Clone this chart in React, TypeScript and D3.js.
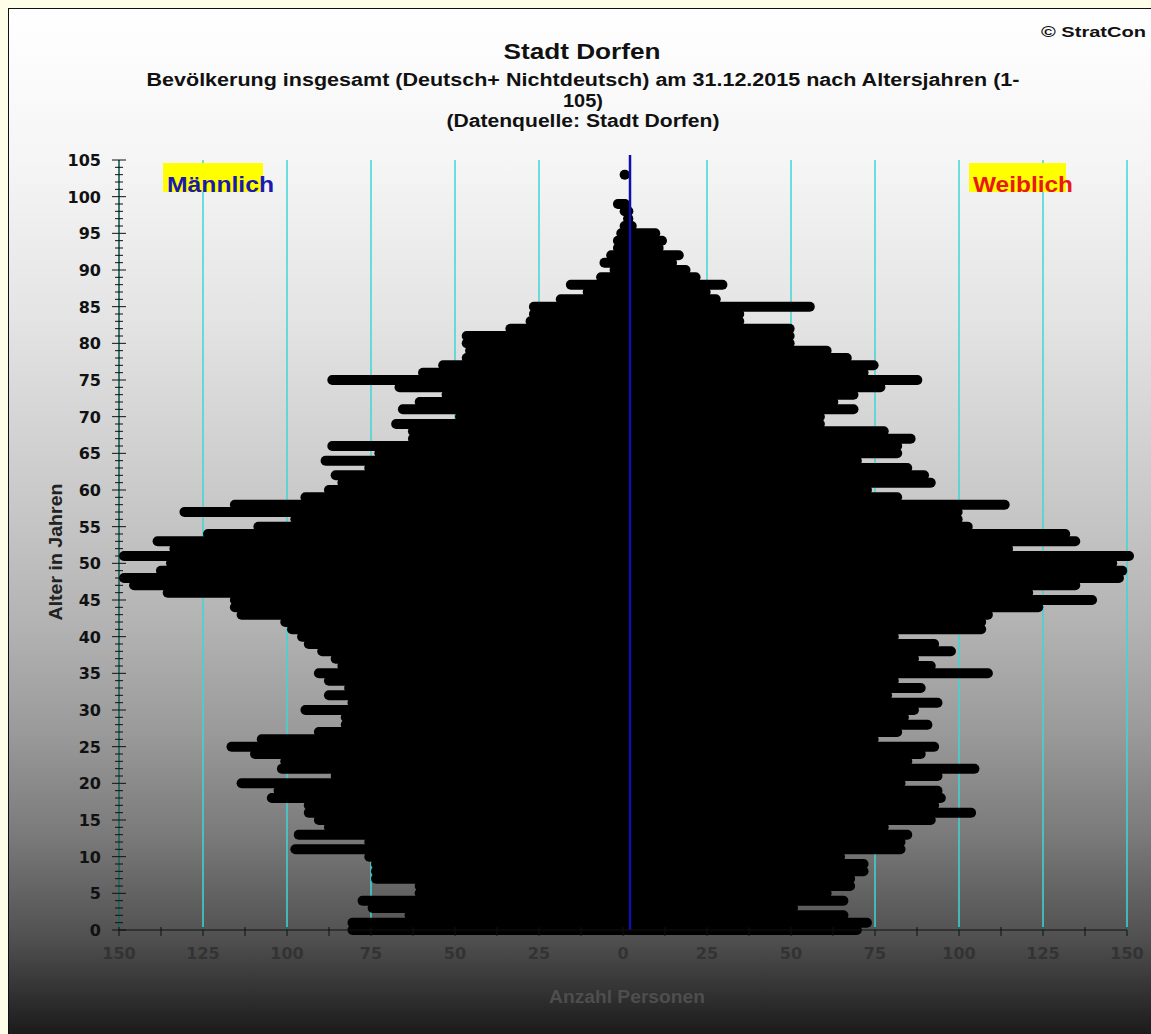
import React, { useRef, useEffect } from 'react';
import * as d3 from 'd3';

// Alter 0..105 (Index = Alter)
const ages = [
    0, 1, 2, 3, 4, 5, 6, 7, 8, 9, 10, 11, 12, 13, 14, 15, 16, 17, 18, 19, 20,
    21, 22, 23, 24, 25, 26, 27, 28, 29, 30, 31, 32, 33, 34, 35, 36, 37, 38, 39, 40,
    41, 42, 43, 44, 45, 46, 47, 48, 49, 50, 51, 52, 53, 54, 55, 56, 57, 58, 59, 60,
    61, 62, 63, 64, 65, 66, 67, 68, 69, 70, 71, 72, 73, 74, 75, 76, 77, 78, 79, 80,
    81, 82, 83, 84, 85, 86, 87, 88, 89, 90, 91, 92, 93, 94, 95, 96, 97, 98, 99, 100,
    101, 102, 103, 104, 105
];

const maleCounts = [
    82, 82, 65, 76, 79, 62, 62, 75, 75, 75, 77, 99, 77, 98, 89, 92, 95, 95, 106, 104, 115,
    87, 103, 102, 111, 118, 109, 92, 84, 84, 96, 82, 89, 83, 89, 92, 85, 87, 91, 95, 97,
    100, 102, 115, 117, 117, 137, 147, 150, 139, 136, 150, 135, 140, 125, 110, 99, 132, 117, 96, 89,
    85, 87, 77, 90, 74, 88, 64, 64, 69, 50, 67, 62, 54, 68, 88, 61, 55, 48, 47, 48,
    48, 35, 29, 28, 28, 20, 12, 17, 8, 4, 7, 5, 3, 3, 2, 1, 0, 1, 3, 0,
    0, 0, 1, 0, 0
];

const femaleCounts = [
    69, 72, 65, 50, 65, 60, 67, 67, 71, 71, 64, 82, 82, 84, 77, 91, 103, 92, 94, 93, 82,
    93, 104, 84, 88, 92, 74, 81, 90, 83, 86, 93, 78, 88, 80, 108, 91, 86, 97, 92, 80,
    106, 106, 108, 123, 139, 120, 134, 147, 148, 145, 150, 114, 134, 131, 102, 99, 99, 113, 81, 72,
    91, 89, 84, 69, 81, 81, 85, 77, 58, 58, 68, 62, 68, 76, 87, 71, 74, 66, 60, 49,
    49, 49, 34, 34, 55, 27, 24, 29, 21, 18, 14, 16, 10, 11, 9, 2, 1, 1, 0, 0,
    0, 0, 0, 0, 0
];

const ageTicks = [0, 5, 10, 15, 20, 25, 30, 35, 40, 45, 50, 55, 60, 65, 70, 75, 80, 85, 90, 95, 100, 105];
const countTicks = [-150, -125, -100, -75, -50, -25, 0, 25, 50, 75, 100, 125, 150];

const title = 'Stadt Dorfen';
const subtitleLines = [
    'Bevölkerung  insgesamt (Deutsch+ Nichtdeutsch) am 31.12.2015 nach Altersjahren (1-',
    '105)',
    '(Datenquelle: Stadt Dorfen)'
];
const subtitleWidths = [873, 40, 273];

const W = 1151;
const H = 1034;

const App: React.FC = () => {
    const svgRef = useRef<SVGSVGElement | null>(null);

    useEffect(() => {
        if (!svgRef.current) return;
        const svg = d3.select(svgRef.current);
        svg.selectAll('*').remove();

        const plot = { left: 119, right: 1127, top: 160, bottom: 930 };
        const centerShift = 7; // Mittellinie liegt etwas rechts von 0
        const barH = 10;

        const x = d3.scaleLinear().domain([-150, 150]).range([plot.left, plot.right]);
        const y = d3.scaleLinear().domain([0, 105]).range([plot.bottom, plot.top]);

        const arial = 'Arial, "Liberation Sans", sans-serif';
        const verdana = 'Verdana, "DejaVu Sans", sans-serif';
        const stretch = 'spacingAndGlyphs';

        // page + panel background
        const defs = svg.append('defs');
        const bg = defs.append('linearGradient')
            .attr('id', 'panelBg')
            .attr('x1', 0).attr('x2', 0).attr('y1', 0).attr('y2', 1);
        [
            [0, '#ffffff'], [0.15, '#f5f5f5'], [0.3, '#e4e4e4'], [0.48, '#c8c8c8'],
            [0.6, '#b2b2b2'], [0.7, '#9a9a9a'], [0.8, '#7a7a7a'], [0.9, '#505050'],
            [0.95, '#333333'], [1, '#161616']
        ].forEach(([o, c]) => bg.append('stop').attr('offset', o as number).attr('stop-color', c as string));

        svg.append('rect').attr('width', W).attr('height', H).attr('fill', '#fdfde8');
        svg.append('rect')
            .attr('x', 8.5).attr('y', 8.5)
            .attr('width', W).attr('height', H)
            .attr('fill', 'url(#panelBg)')
            .attr('stroke', '#111').attr('stroke-width', 1);

        // titles
        svg.append('text')
            .attr('x', 1041).attr('y', 37)
            .attr('font-family', arial).attr('font-weight', 'bold').attr('font-size', 15)
            .attr('textLength', 105).attr('lengthAdjust', stretch)
            .attr('fill', '#111')
            .text('© StratCon');

        svg.append('text')
            .attr('x', 582).attr('y', 59)
            .attr('text-anchor', 'middle')
            .attr('font-family', arial).attr('font-weight', 'bold').attr('font-size', 22)
            .attr('textLength', 157).attr('lengthAdjust', stretch)
            .attr('fill', '#111')
            .text(title);

        subtitleLines.forEach((line, i) => {
            svg.append('text')
                .attr('x', 583).attr('y', 86 + i * 20.5)
                .attr('text-anchor', 'middle')
                .attr('font-family', arial).attr('font-weight', 'bold').attr('font-size', 18)
                .attr('textLength', subtitleWidths[i]).attr('lengthAdjust', stretch)
                .attr('fill', '#111')
                .text(line);
        });

        // cyan grid
        svg.append('g')
            .selectAll('line')
            .data(countTicks.filter(d => d !== 0))
            .enter().append('line')
            .attr('x1', d => x(d)).attr('x2', d => x(d))
            .attr('y1', y(105)).attr('y2', y(0))
            .attr('stroke', '#3fd6d6').attr('stroke-width', 1.5);

        // legend labels
        const legend = [
            { label: 'Männlich', x: 163, w: 100, tl: 107, color: '#1a1ab0' },
            { label: 'Weiblich', x: 969, w: 97, tl: 100, color: '#e81818' }
        ];
        legend.forEach(l => {
            svg.append('rect')
                .attr('x', l.x).attr('y', 163)
                .attr('width', l.w).attr('height', 29)
                .attr('fill', '#ffff00');
            svg.append('text')
                .attr('x', l.x + 4).attr('y', 192)
                .attr('font-family', arial).attr('font-weight', 'bold').attr('font-size', 22)
                .attr('textLength', l.tl).attr('lengthAdjust', stretch)
                .attr('fill', l.color)
                .text(l.label);
        });

        // bars
        const bars = svg.append('g');
        bars.selectAll('.male')
            .data(ages.filter(a => maleCounts[a] > 0))
            .enter().append('rect')
            .attr('class', 'male')
            .attr('x', a => x(-maleCounts[a]))
            .attr('y', a => y(a) - barH / 2)
            .attr('width', a => x(0) + centerShift - x(-maleCounts[a]))
            .attr('height', barH)
            .attr('rx', 5).attr('ry', 5)
            .attr('fill', '#000');
        bars.selectAll('.female')
            .data(ages.filter(a => femaleCounts[a] > 0))
            .enter().append('rect')
            .attr('class', 'female')
            .attr('x', x(0))
            .attr('y', a => y(a) - barH / 2)
            .attr('width', a => x(femaleCounts[a]) + centerShift - x(0))
            .attr('height', barH)
            .attr('rx', 5).attr('ry', 5)
            .attr('fill', '#000');

        // center line
        svg.append('line')
            .attr('x1', x(0) + centerShift).attr('x2', x(0) + centerShift)
            .attr('y1', y(105) - 5).attr('y2', y(0))
            .attr('stroke', '#1010a8').attr('stroke-width', 2.5);

        // y axis
        const yAxis = svg.append('g');
        yAxis.append('line')
            .attr('x1', plot.left).attr('x2', plot.left)
            .attr('y1', y(105)).attr('y2', y(0))
            .attr('stroke', '#111');
        yAxis.selectAll('.ytick')
            .data(ages)
            .enter().append('line')
            .attr('x1', a => a % 5 === 0 ? plot.left - 7 : plot.left - 4)
            .attr('x2', a => a % 5 === 0 ? plot.left + 7 : plot.left + 4)
            .attr('y1', a => y(a)).attr('y2', a => y(a))
            .attr('stroke', '#111');
        yAxis.selectAll('.ylabel')
            .data(ageTicks)
            .enter().append('text')
            .attr('x', 101).attr('y', a => y(a) + 6)
            .attr('text-anchor', 'end')
            .attr('font-family', verdana).attr('font-weight', 'bold').attr('font-size', 16)
            .attr('fill', '#111')
            .text(a => a);

        svg.append('text')
            .attr('transform', `translate(62,552) rotate(-90)`)
            .attr('text-anchor', 'middle')
            .attr('font-family', arial).attr('font-weight', 'bold').attr('font-size', 18)
            .attr('textLength', 137).attr('lengthAdjust', stretch)
            .attr('fill', '#222')
            .text('Alter in Jahren');

        // x axis
        const xAxis = svg.append('g');
        xAxis.append('line')
            .attr('x1', plot.left).attr('x2', plot.right)
            .attr('y1', y(0)).attr('y2', y(0))
            .attr('stroke', '#111');
        xAxis.selectAll('.xtick')
            .data(d3.range(-150, 150.1, 12.5))
            .enter().append('line')
            .attr('x1', d => x(d)).attr('x2', d => x(d))
            .attr('y1', y(0) - 3).attr('y2', y(0) + 6)
            .attr('stroke', '#111');
        xAxis.selectAll('.xlabel')
            .data(countTicks)
            .enter().append('text')
            .attr('x', d => x(d)).attr('y', 959)
            .attr('text-anchor', 'middle')
            .attr('font-family', verdana).attr('font-weight', 'bold').attr('font-size', 16)
            .attr('fill', '#333')
            .text(d => Math.abs(d));

        svg.append('text')
            .attr('x', 627).attr('y', 1003)
            .attr('text-anchor', 'middle')
            .attr('font-family', arial).attr('font-weight', 'bold').attr('font-size', 18)
            .attr('textLength', 156).attr('lengthAdjust', stretch)
            .attr('fill', '#4e4e4e')
            .text('Anzahl Personen');
    }, []);

    return (
        <svg
            ref={svgRef}
            width={W}
            height={H}
            style={{ position: 'absolute', left: 0, top: 0, display: 'block' }}
        />
    );
};

export default App;
